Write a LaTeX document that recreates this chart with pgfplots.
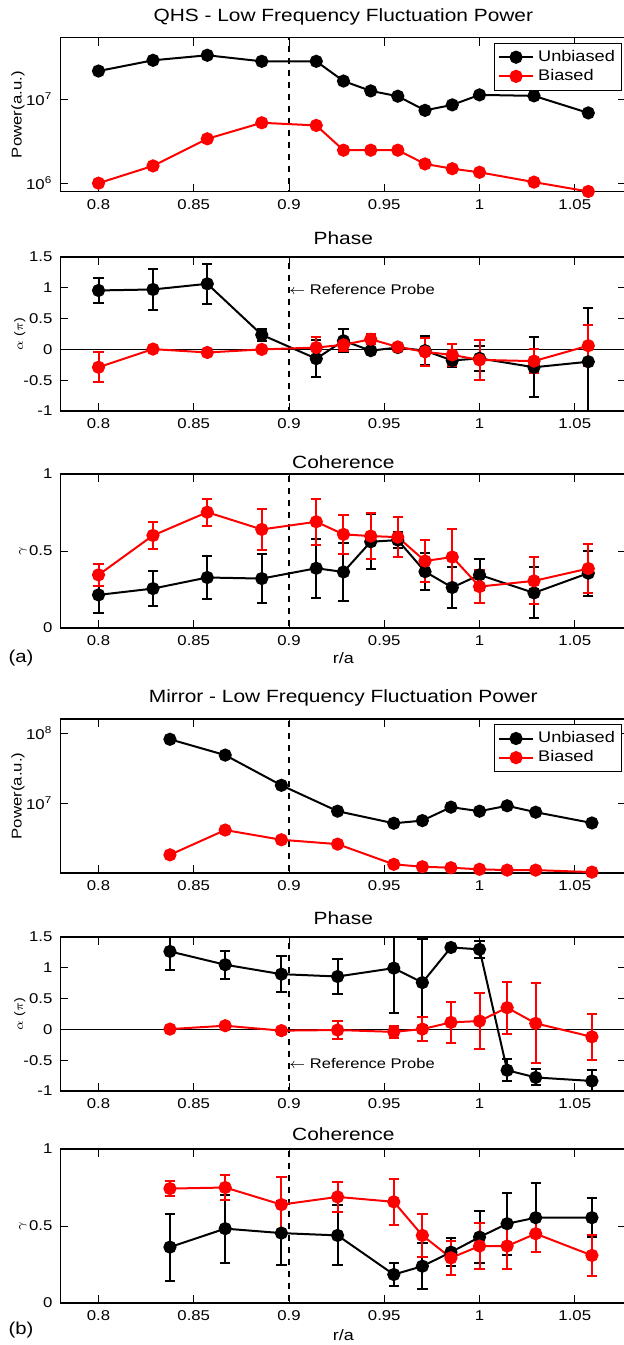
\documentclass[border=0pt]{standalone}
\usepackage{fontspec}
\setmainfont{Liberation Sans}[FakeStretch=1.18]
\usepackage{pgfplots}
\usepackage{pgfplotstable}
\pgfplotsset{compat=1.18}

\pgfplotstableread{
x unb bias
0.8000 2.17e7 1.01e6
0.8286 2.91e7 1.62e6
0.8571 3.34e7 3.40e6
0.8857 2.83e7 5.27e6
0.9143 2.83e7 4.90e6
0.9286 1.65e7 2.49e6
0.9429 1.26e7 2.49e6
0.9571 1.09e7 2.49e6
0.9714 7.4e6 1.71e6
0.9857 8.6e6 1.50e6
1.0000 1.13e7 1.36e6
1.0286 1.10e7 1.04e6
1.0571 6.9e6 8.05e5
}\qhspow
\pgfplotstableread{
x unb eu bias eb
0.8000 0.957 0.20 -0.29 0.24
0.8286 0.973 0.33 0.005 0.03
0.8571 1.065 0.32 -0.05 0.03
0.8857 0.237 0.10 0.00 0.03
0.9143 -0.15 0.30 0.03 0.17
0.9286 0.14 0.19 0.075 0.10
0.9429 -0.02 0.05 0.165 0.08
0.9571 0.03 0.05 0.04 0.05
0.9714 -0.02 0.24 -0.04 0.23
0.9857 -0.18 0.10 -0.09 0.18
1.0000 -0.145 0.20 -0.17 0.33
1.0286 -0.29 0.49 -0.19 0.20
1.0571 -0.20 0.88 0.06 0.33
}\qhsphase
\pgfplotstableread{
x unb eu bias eb
0.8000 0.215 0.12 0.345 0.07
0.8286 0.256 0.115 0.601 0.09
0.8571 0.328 0.14 0.752 0.088
0.8857 0.321 0.16 0.640 0.135
0.9143 0.388 0.19 0.690 0.15
0.9286 0.364 0.19 0.608 0.125
0.9429 0.560 0.18 0.597 0.15
0.9571 0.571 0.05 0.590 0.13
0.9714 0.366 0.12 0.435 0.135
0.9857 0.263 0.135 0.461 0.185
1.0000 0.345 0.10 0.269 0.105
1.0286 0.228 0.165 0.306 0.152
1.0571 0.356 0.145 0.386 0.16
}\qhscoh
\pgfplotstableread{
x unb bias
0.8375 8.2e7 1.82e6
0.8665 4.87e7 4.12e6
0.8960 1.80e7 2.99e6
0.9255 7.67e6 2.59e6
0.9550 5.15e6 1.33e6
0.9700 5.62e6 1.23e6
0.9850 8.76e6 1.19e6
1.0000 7.67e6 1.13e6
1.0145 9.16e6 1.10e6
1.0295 7.42e6 1.10e6
1.0590 5.2e6 1.03e6
}\mirpow
\pgfplotstableread{
x unb eu bias eb
0.8375 1.266 0.30 0.005 0.05
0.8665 1.05 0.23 0.06 0.05
0.8960 0.897 0.29 -0.02 0.05
0.9255 0.859 0.29 -0.01 0.14
0.9550 0.995 0.73 -0.04 0.10
0.9700 0.76 0.70 0.005 0.19
0.9850 1.33 0.03 0.114 0.33
1.0000 1.30 0.14 0.136 0.46
1.0145 -0.663 0.18 0.353 0.42
1.0295 -0.78 0.13 0.098 0.65
1.0590 -0.837 0.18 -0.12 0.37
}\mirphase
\pgfplotstableread{
x unb eu bias eb
0.8375 0.363 0.217 0.743 0.05
0.8665 0.483 0.22 0.750 0.08
0.8960 0.454 0.21 0.639 0.18
0.9255 0.439 0.195 0.689 0.10
0.9550 0.185 0.077 0.657 0.15
0.9700 0.239 0.15 0.439 0.14
0.9850 0.330 0.09 0.293 0.11
1.0000 0.428 0.17 0.370 0.15
1.0145 0.515 0.20 0.370 0.147
1.0295 0.554 0.225 0.450 0.12
1.0590 0.554 0.125 0.309 0.133
}\mircoh

\pgfplotsset{
  every axis title shift=0pt,
  panel/.style={
    scale only axis, width=282.9pt, height=77pt, anchor=north west,
    xmin=0.78, xmax=1.077,
    xtick={0.8,0.85,0.9,0.95,1,1.05},
    xticklabels={0.8,0.85,0.9,0.95,1,1.05},
    tick align=inside, major tick length=4pt,
    tick style={black, line width=0.5pt},
    axis line style={line width=0.6pt},
    ticklabel style={font=\fontsize{7.1}{8}\selectfont},
    /pgf/number format/assume math mode=true,
    xticklabel style={yshift=-0.3pt},
    yticklabel style={xshift=-0.5pt},
    title style={font=\fontsize{8.85}{10}\selectfont, at={(axis description cs:0.5,1)}, anchor=center},
    ylabel style={at={(axis description cs:-0.075,0.5)}, anchor=center, rotate=0},
  },
  ser/.style={#1, line width=1pt, mark=*, mark size=2.8pt, mark options={solid, fill=#1, draw=#1}},
  ebar/.style={error bars/.cd, y dir=both, y explicit,
    error bar style={line width=1pt},
    error mark options={rotate=90, mark size=2.6pt, line width=1pt}},
  powlegend/.style={legend style={font=\fontsize{7.7}{9}\selectfont, draw=black, line width=0.5pt,
    at={(0.9933,0.968)}, anchor=north east, inner sep=1.5pt, row sep=-1.5pt, cells={anchor=west}}},
}

\begin{document}
\begin{tikzpicture}
% ---------- QHS power
\begin{axis}[panel, at={(30.2pt,-18.85pt)}, ymode=log, ymin=8e5, ymax=5.4e7,
  ytick={1e6,1e7}, yticklabels={10\textsuperscript{6},10\textsuperscript{7}}, yminorticks=false,
  title={QHS - Low Frequency Fluctuation Power}, title style={yshift=10.35pt},
  ylabel={Power(a.u.)}, ylabel style={font=\fontsize{7.1}{8}\selectfont}, powlegend]
\addplot[black, dashed, line width=0.6pt, forget plot] coordinates {(0.9,1e5) (0.9,1e9)};
\addplot[ser=black] table[x=x, y=unb] {\qhspow};
\addplot[ser=red] table[x=x, y=bias] {\qhspow};
\legend{Unbiased, Biased}
\end{axis}
% ---------- QHS phase
\begin{axis}[panel, at={(30.2pt,-128.5pt)}, ymin=-1, ymax=1.5,
  ytick={-1,-0.5,0,0.5,1,1.5}, yticklabels={-1,-0.5,0,0.5,1,1.5},
  title={Phase}, title style={yshift=9.5pt},
  ylabel={$\alpha$ ($\pi$)}, ylabel style={font=\fontsize{6}{7}\selectfont, at={(axis description cs:-0.072,0.5)}}]
\addplot[black, dashed, line width=0.6pt, forget plot] coordinates {(0.9,-2) (0.9,2)};
\addplot[black, line width=0.7pt, forget plot] coordinates {(0.7,0) (1.1,0)};
\addplot[ser=black, ebar] table[x=x, y=unb, y error=eu] {\qhsphase};
\addplot[ser=red, ebar] table[x=x, y=bias, y error=eb] {\qhsphase};
\node[anchor=west, font=\fontsize{7}{8}\selectfont, inner sep=0pt] at (axis cs:0.9,0.98) {$\leftarrow$ Reference Probe};
\end{axis}
% ---------- QHS coherence
\begin{axis}[panel, at={(30.2pt,-237pt)}, ymin=0, ymax=1,
  ytick={0,0.5,1}, yticklabels={0,0.5,1},
  title={Coherence}, title style={yshift=6pt},
  ylabel={$\gamma$}, ylabel style={font=\fontsize{6}{7}\selectfont, at={(axis description cs:-0.066,0.5)}},
  xlabel={r/a}, xlabel style={font=\fontsize{7.6}{9}\selectfont, at={(axis description cs:0.5,0)}, anchor=center, yshift=-15pt}]
\addplot[black, dashed, line width=0.6pt, forget plot] coordinates {(0.9,-1) (0.9,2)};
\addplot[ser=black, ebar] table[x=x, y=unb, y error=eu] {\qhscoh};
\addplot[ser=red, ebar] table[x=x, y=bias, y error=eb] {\qhscoh};
\end{axis}
% ---------- Mirror power
\begin{axis}[panel, at={(30.2pt,-359.5pt)}, ymode=log, ymin=1e6, ymax=1.6e8,
  ytick={1e7,1e8}, yticklabels={10\textsuperscript{7},10\textsuperscript{8}}, yminorticks=false,
  title={Mirror - Low Frequency Fluctuation Power}, title style={yshift=10.5pt},
  ylabel={Power(a.u.)}, ylabel style={font=\fontsize{7.1}{8}\selectfont}, powlegend]
\addplot[black, dashed, line width=0.6pt, forget plot] coordinates {(0.9,1e5) (0.9,1e9)};
\addplot[ser=black] table[x=x, y=unb] {\mirpow};
\addplot[ser=red] table[x=x, y=bias] {\mirpow};
\legend{Unbiased, Biased}
\end{axis}
% ---------- Mirror phase
\begin{axis}[panel, at={(30.2pt,-468.5pt)}, ymin=-1, ymax=1.5,
  ytick={-1,-0.5,0,0.5,1,1.5}, yticklabels={-1,-0.5,0,0.5,1,1.5},
  title={Phase}, title style={yshift=9.5pt},
  ylabel={$\alpha$ ($\pi$)}, ylabel style={font=\fontsize{6}{7}\selectfont, at={(axis description cs:-0.072,0.5)}}]
\addplot[black, dashed, line width=0.6pt, forget plot] coordinates {(0.9,-2) (0.9,2)};
\addplot[black, line width=0.7pt, forget plot] coordinates {(0.7,0) (1.1,0)};
\addplot[ser=black, ebar] table[x=x, y=unb, y error=eu] {\mirphase};
\addplot[ser=red, ebar] table[x=x, y=bias, y error=eb] {\mirphase};
\node[anchor=west, font=\fontsize{7}{8}\selectfont, inner sep=0pt] at (axis cs:0.9,-0.55) {$\leftarrow$ Reference Probe};
\end{axis}
% ---------- Mirror coherence
\begin{axis}[panel, at={(30.2pt,-574.5pt)}, ymin=0, ymax=1,
  ytick={0,0.5,1}, yticklabels={0,0.5,1},
  title={Coherence}, title style={yshift=7.5pt},
  ylabel={$\gamma$}, ylabel style={font=\fontsize{6}{7}\selectfont, at={(axis description cs:-0.066,0.5)}},
  xlabel={r/a}, xlabel style={font=\fontsize{7.6}{9}\selectfont, at={(axis description cs:0.5,0)}, anchor=center, yshift=-16pt}]
\addplot[black, dashed, line width=0.6pt, forget plot] coordinates {(0.9,-1) (0.9,2)};
\addplot[ser=black, ebar] table[x=x, y=unb, y error=eu] {\mircoh};
\addplot[ser=red, ebar] table[x=x, y=bias, y error=eb] {\mircoh};
\end{axis}
\node[font=\fontsize{8.6}{10}\selectfont] at (10.5pt,-329pt) {(a)};
\node[font=\fontsize{8.6}{10}\selectfont] at (10.5pt,-665pt) {(b)};
\pgfresetboundingbox
\useasboundingbox (0,0) rectangle (311.5pt,-672.5pt);
\end{tikzpicture}
\end{document}
